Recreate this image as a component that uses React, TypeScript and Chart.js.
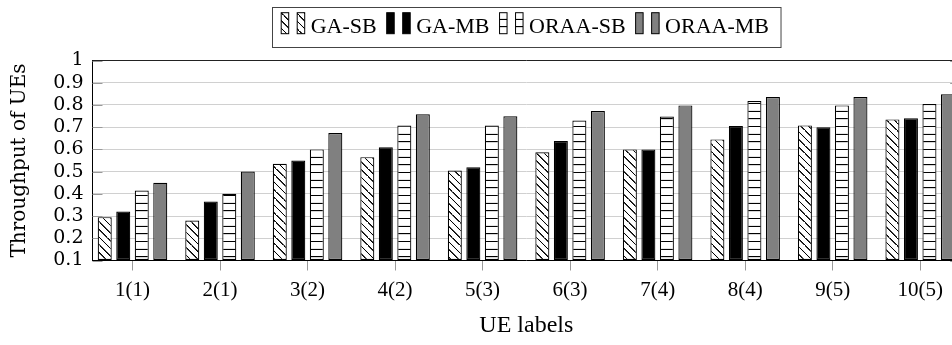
import React, { useEffect, useRef } from "react";
import { Chart, registerables } from "chart.js";

Chart.register(...registerables);

const categories = ["1(1)", "2(1)", "3(2)", "4(2)", "5(3)", "6(3)", "7(4)", "8(4)", "9(5)", "10(5)"];
const seriesNames = ["GA-SB", "GA-MB", "ORAA-SB", "ORAA-MB"];
const gaSB = [0.295, 0.28, 0.535, 0.565, 0.505, 0.587, 0.6, 0.645, 0.708, 0.735];
const gaMB = [0.32, 0.365, 0.55, 0.61, 0.52, 0.638, 0.6, 0.705, 0.7, 0.74];
const oraaSB = [0.415, 0.4, 0.6, 0.708, 0.708, 0.73, 0.748, 0.818, 0.798, 0.804];
const oraaMB = [0.45, 0.5, 0.674, 0.758, 0.749, 0.773, 0.798, 0.836, 0.836, 0.848];
const yTicks = [0.1, 0.2, 0.3, 0.4, 0.5, 0.6, 0.7, 0.8, 0.9, 1];
const xTitle = "UE labels";
const yTitle = "Throughput of UEs";

const CANVAS_W = 975;
const CANVAS_H = 345;
const LEG_FONT = 22;

function makePattern(ctx: CanvasRenderingContext2D, kind: "diag" | "horiz"): CanvasPattern {
  const S = 3;
  const T = 23;
  const c = document.createElement("canvas");
  c.width = T;
  c.height = T;
  const g = c.getContext("2d")!;
  g.fillStyle = "#ffffff";
  g.fillRect(0, 0, T, T);
  g.strokeStyle = "#000000";
  g.lineWidth = 3.2;
  g.beginPath();
  if (kind === "diag") {
    for (const o of [-T, 0, T]) {
      g.moveTo(o, 0);
      g.lineTo(o + T, T);
    }
  } else {
    g.moveTo(0, T / 2);
    g.lineTo(T, T / 2);
  }
  g.stroke();
  const p = ctx.createPattern(c, "repeat")!;
  p.setTransform(new DOMMatrix().scale(1 / S));
  return p;
}

export default function App() {
  const ref = useRef<HTMLCanvasElement | null>(null);

  useEffect(() => {
    const canvas = ref.current!;
    const ctx = canvas.getContext("2d")!;
    const fills: (string | CanvasPattern)[] = [
      makePattern(ctx, "diag"),
      "#000000",
      makePattern(ctx, "horiz"),
      "#808080",
    ];
    const seriesValues = [gaSB, gaMB, oraaSB, oraaMB];

    const framePlugin = {
      id: "frame",
      beforeDatasetsDraw(chart: any) {
        const { ctx: c, chartArea: a } = chart;
        const y = chart.scales.y;
        c.save();
        c.strokeStyle = "#9a9a9a";
        c.lineWidth = 1;
        c.beginPath();
        for (const v of yTicks) {
          const py = Math.round(y.getPixelForValue(v)) + 0.5;
          c.moveTo(a.left, py);
          c.lineTo(a.left + 10, py);
          c.moveTo(a.right - 10, py);
          c.lineTo(a.right, py);
        }
        c.stroke();
        c.restore();
      },
      afterDatasetsDraw(chart: any) {
        const { ctx: c, chartArea: a } = chart;
        c.save();
        c.strokeStyle = "#222222";
        c.lineWidth = 1;
        c.beginPath();
        c.moveTo(a.left, a.top);
        c.lineTo(a.right, a.top);
        c.lineTo(a.right, a.bottom);
        c.stroke();
        c.restore();
      },
      afterDraw(chart: any) {
        const { ctx: c, chartArea: a } = chart;
        c.save();
        c.font = `${LEG_FONT}px "Liberation Serif"`;
        const swW = 7.5, swH = 21, swGap = 8.5, txtGap = 6, itemGap = 10, padL = 8.7, padR = 12;
        const widths = seriesNames.map((n) => c.measureText(n).width);
        const total =
          padL + padR + widths.reduce((s, w) => s + swW * 2 + swGap + txtGap + w, 0) + itemGap * (seriesNames.length - 1);
        const cx = (a.left + a.right) / 2;
        const bx = Math.round(cx - total / 2) + 0.5;
        const by = 7.5;
        const bh = 40;
        c.fillStyle = "#ffffff";
        c.fillRect(bx, by, total, bh);
        c.strokeStyle = "#444444";
        c.lineWidth = 1;
        c.strokeRect(bx, by, total, bh);
        let x = bx + padL;
        const swTop = 12.7;
        const baseline = 33.3;
        seriesNames.forEach((name, i) => {
          for (let k = 0; k < 2; k++) {
            c.fillStyle = fills[i] as any;
            c.fillRect(x, swTop, swW, swH);
            c.strokeStyle = "#000000";
            c.lineWidth = 1;
            c.strokeRect(x, swTop, swW, swH);
            x += swW + (k === 0 ? swGap : txtGap);
          }
          c.fillStyle = "#000000";
          c.textBaseline = "alphabetic";
          c.textAlign = "left";
          c.fillText(name, x, baseline);
          x += widths[i] + itemGap;
        });
        c.restore();
      },
    };

    const chart = new Chart(canvas, {
      type: "bar",
      data: {
        datasets: seriesNames.map((name, i) => ({
          label: name,
          data: seriesValues[i].map((v, j) => ({ x: j + 1, y: v })),
          backgroundColor: fills[i] as any,
          borderColor: "#000000",
          borderWidth: 1.2,
          borderSkipped: false,
          base: 0.1,
          categoryPercentage: 0.846,
          barPercentage: 0.757,
        })),
      },
      options: {
        responsive: false,
        maintainAspectRatio: false,
        animation: false,
        layout: { padding: { left: 0, top: 60.5, right: CANVAS_W - 960.2, bottom: 0 } },
        plugins: { legend: { display: false }, tooltip: { enabled: false } },
        scales: {
          x: {
            type: "linear",
            offset: false,
            min: 1 - 40 / 87.5,
            max: 10 + 40 / 87.5,
            afterBuildTicks: (s: any) => {
              s.ticks = categories.map((_, i) => ({ value: i + 1 }));
            },
            afterFit: (s: any) => {
              s.height = CANVAS_H - 260.5;
            },
            ticks: {
              autoSkip: false,
              maxRotation: 0,
              padding: 7,
              color: "#000000",
              font: { family: "Liberation Serif", size: 21 },
              callback: (v: any) => categories[Math.round(Number(v)) - 1] ?? "",
            },
            grid: { offset: false, drawOnChartArea: false, drawTicks: true, tickLength: 10, color: "#9a9a9a", lineWidth: 1 },
            border: { display: true, color: "#000000", width: 1 },
            title: {
              display: true,
              text: xTitle,
              color: "#000000",
              font: { family: "Liberation Serif", size: 24 },
              padding: { top: 0, bottom: 5 },
            },
          },
          y: {
            type: "linear",
            min: 0.1,
            max: 1,
            afterBuildTicks: (s: any) => {
              s.ticks = yTicks.map((v) => ({ value: v }));
            },
            afterFit: (s: any) => {
              s.width = 92.5;
            },
            ticks: {
              autoSkip: false,
              padding: 9,
              color: "#000000",
              font: { family: "DejaVu Serif", size: 19 },
              callback: (v: any) => String(Math.round(Number(v) * 10) / 10),
            },
            grid: { drawOnChartArea: true, drawTicks: false, color: "#d0d0d0", lineWidth: 1 },
            border: { display: true, color: "#000000", width: 1 },
            title: {
              display: true,
              text: yTitle,
              color: "#000000",
              font: { family: "DejaVu Serif", size: 20 },
              padding: { top: 8, bottom: 0 },
            },
          },
        },
      },
      plugins: [framePlugin],
    });

    return () => chart.destroy();
  }, []);

  return (
    <div style={{ position: "fixed", left: 0, top: 0, width: 952, height: 345, overflow: "hidden", background: "#fff" }}>
      <canvas ref={ref} width={CANVAS_W} height={CANVAS_H} style={{ display: "block", width: CANVAS_W, height: CANVAS_H }} />
    </div>
  );
}
